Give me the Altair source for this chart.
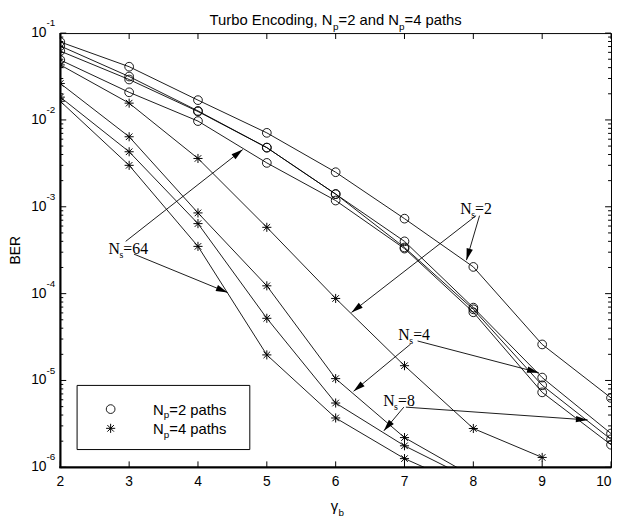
import math
import altair as alt
import pandas as pd

# ---------------- data ----------------
gamma = [2, 3, 4, 5, 6, 7, 8, 9, 10]

# Np = 2 paths (circles)
np2_ns2 = [0.079, 0.041, 0.0169, 0.0071, 0.0025, 7.3e-4, 2.03e-4, 2.6e-5, 6.3e-6]
np2_ns4 = [0.071, 0.0316, 0.0127, 0.0048, 0.0014, 4.0e-4, 6.9e-5, 1.08e-5, 2.45e-6]
np2_ns8 = [0.062, 0.0292, 0.0125, 0.0048, 0.0014, 3.4e-4, 6.6e-5, 8.8e-6, 2.1e-6]
np2_ns64 = [0.049, 0.0208, 0.0097, 0.0032, 0.00118, 3.3e-4, 6.1e-5, 7.3e-6, 1.82e-6]

# Np = 4 paths (stars)
gamma_np4_ns2 = [2, 3, 4, 5, 6, 7, 8, 9]
np4_ns2 = [0.043, 0.0156, 0.0036, 5.8e-4, 8.8e-5, 1.48e-5, 2.8e-6, 1.3e-6]
gamma_np4 = [2, 3, 4, 5, 6, 7, 8]
np4_ns4 = [0.0263, 0.0064, 8.5e-4, 1.23e-4, 1.05e-5, 2.2e-6, 7.8e-7]
np4_ns8 = [0.0183, 0.0043, 6.4e-4, 5.2e-5, 5.5e-6, 1.77e-6, 7.1e-7]
np4_ns64 = [0.0164, 0.0030, 3.5e-4, 1.97e-5, 3.7e-6, 1.26e-6, 5.6e-7]

# axis ticks / labels
x_ticks = [2, 3, 4, 5, 6, 7, 8, 9, 10]
y_major = [1e-1, 1e-2, 1e-3, 1e-4, 1e-5, 1e-6]
y_exp = ["-1", "-2", "-3", "-4", "-5", "-6"]
y_minor = [k * 10.0 ** e for e in range(-6, -1) for k in range(2, 10)]

# annotations (data coordinates)
ann_rest = ["=2", "=4", "=8", "=64"]
ann_x = [7.81, 6.91, 6.69, 2.70]
ann_y = [8.3e-4, 2.92e-5, 5.07e-6, 2.85e-4]
arr_x1 = [8.09, 8.04, 7.09, 7.19, 6.99, 7.02, 2.95, 3.07]
arr_y1 = [7.9e-4, 7.9e-4, 2.63e-5, 2.85e-5, 4.93e-6, 4.93e-6, 4.0e-4, 2.85e-4]
arr_x2 = [7.90, 6.23, 6.26, 8.95, 6.70, 9.66, 4.65, 4.43]
arr_y2 = [2.43e-4, 6.08e-5, 7.5e-6, 1.23e-5, 2.63e-6, 3.51e-6, 4.56e-3, 1.03e-4]

# ---------------- layout / style ----------------
W, H = 558, 440
SANS = "Liberation Sans"
SERIF = "Liberation Serif"
ARIAL = {' ': 278, ',': 278, '=': 584, 'T': 611, 'E': 667, 'N': 722, 'a': 556, 'b': 556,
         'c': 500, 'd': 556, 'g': 556, 'h': 556, 'i': 222, 'n': 556, 'o': 556, 'p': 556,
         'r': 333, 's': 500, 't': 278, 'u': 556}
TIMES = {'N': 722, 's': 389, '=': 564}


def tw(s, f, table):
    return sum(table.get(c, 556 if table is ARIAL else 500) for c in s) / 1000.0 * f


xs = alt.Scale(domain=[2, 10], nice=False, zero=False)
ys = alt.Scale(type="log", domain=[1e-6, 1e-1], nice=False)
STAR = "M-1,0L1,0M0,-1L0,1M-0.72,-0.72L0.72,0.72M-0.72,0.72L0.72,-0.72"
ARROW = "M0,0L-0.55,2L0.55,2Z"
CIRC_SIZE = 78
STAR_SIZE = 85

rows = []
for name, g, b, m in [
    ("np2_ns2", gamma, np2_ns2, "circle"), ("np2_ns4", gamma, np2_ns4, "circle"),
    ("np2_ns8", gamma, np2_ns8, "circle"), ("np2_ns64", gamma, np2_ns64, "circle"),
    ("np4_ns2", gamma_np4_ns2, np4_ns2, "star"), ("np4_ns4", gamma_np4, np4_ns4, "star"),
    ("np4_ns8", gamma_np4, np4_ns8, "star"), ("np4_ns64", gamma_np4, np4_ns64, "star"),
]:
    for gi, bi in zip(g, b):
        rows.append({"gamma": gi, "ber": bi, "series": name, "marker": m})
df = pd.DataFrame(rows)

X = alt.X("gamma:Q", scale=xs, axis=None)
Y = alt.Y("ber:Q", scale=ys, axis=None)

base = alt.Chart(df)
lines = base.mark_line(color="black", strokeWidth=0.9, clip=True).encode(
    x=X, y=Y, detail="series:N", order="gamma:Q")
circles = base.transform_filter(alt.datum.marker == "circle").mark_point(
    shape="circle", filled=False, color="black", size=CIRC_SIZE, strokeWidth=0.9,
    opacity=1, clip=True).encode(x=X, y=Y)
stars = base.transform_filter(alt.datum.marker == "star").mark_point(
    shape=STAR, filled=False, color="black", size=STAR_SIZE, strokeWidth=1,
    opacity=1, clip=True).encode(x=X, y=Y)

# arrows
def to_px(x, y):
    return (x - 2) / 8 * W, (-1 - math.log10(y)) / 5 * H

arr_rows = []
for a, b_, c, d in zip(arr_x1, arr_y1, arr_x2, arr_y2):
    p1 = to_px(a, b_)
    p2 = to_px(c, d)
    ang = math.degrees(math.atan2(p2[0] - p1[0], -(p2[1] - p1[1]))) % 360
    arr_rows.append({"x1": a, "y1": b_, "x2": c, "y2": d, "angle": ang})
adf = pd.DataFrame(arr_rows)
arrows = alt.Chart(adf).mark_rule(color="black", strokeWidth=0.9).encode(
    x=alt.X("x1:Q", scale=xs, axis=None), y=alt.Y("y1:Q", scale=ys, axis=None),
    x2="x2:Q", y2="y2:Q")
heads = alt.Chart(adf).mark_point(shape=ARROW, filled=True, color="black", size=140,
                                  strokeWidth=0, opacity=1).encode(
    x=alt.X("x2:Q", scale=xs, axis=None), y=alt.Y("y2:Q", scale=ys, axis=None),
    angle=alt.Angle("angle:Q", scale=None))

AF = 16
ldf = pd.DataFrame({"x": ann_x, "y": ann_y, "rest": ann_rest})
lx = alt.X("x:Q", scale=xs, axis=None)
ly = alt.Y("y:Q", scale=ys, axis=None)
ann_n = alt.Chart(ldf).mark_text(text="N", font=SERIF, fontSize=AF, align="left",
                                 baseline="alphabetic", color="black").encode(x=lx, y=ly)
ann_s = alt.Chart(ldf).mark_text(text="s", font=SERIF, fontSize=10, align="left",
                                 baseline="alphabetic", color="black",
                                 dx=tw("N", AF, TIMES) - 0.5, dy=4).encode(x=lx, y=ly)
ann_r = alt.Chart(ldf).mark_text(font=SERIF, fontSize=AF, align="left",
                                 baseline="alphabetic", color="black",
                                 dx=tw("N", AF, TIMES) + 3.5).encode(x=lx, y=ly, text="rest:N")

# ticks (inward, all four sides)
tyM = pd.DataFrame({"v": y_major})
tym = pd.DataFrame({"v": y_minor})
txd = pd.DataFrame({"v": x_ticks})
TY = alt.Y("v:Q", scale=ys, axis=None)
TX = alt.X("v:Q", scale=xs, axis=None)
tick_layers = [
    alt.Chart(tyM).mark_rule(color="black", strokeWidth=1).encode(
        y=TY, x=alt.value(0), x2=alt.value(6)),
    alt.Chart(tyM).mark_rule(color="black", strokeWidth=1).encode(
        y=TY, x=alt.value(W - 6), x2=alt.value(W)),
    alt.Chart(tym).mark_rule(color="black", strokeWidth=1).encode(
        y=TY, x=alt.value(0), x2=alt.value(3)),
    alt.Chart(tym).mark_rule(color="black", strokeWidth=1).encode(
        y=TY, x=alt.value(W - 3), x2=alt.value(W)),
    alt.Chart(txd).mark_rule(color="black", strokeWidth=1).encode(
        x=TX, y=alt.value(H), y2=alt.value(H - 6)),
    alt.Chart(txd).mark_rule(color="black", strokeWidth=1).encode(
        x=TX, y=alt.value(0), y2=alt.value(6)),
]

one = alt.Data(values=[{}])
frame_thick = [
    alt.Chart(one).mark_rule(color="black", strokeWidth=2).encode(
        x=alt.value(0), y=alt.value(0), y2=alt.value(H + 1)),
    alt.Chart(one).mark_rule(color="black", strokeWidth=2).encode(
        x=alt.value(-1), x2=alt.value(W), y=alt.value(H)),
]

# tick labels
ylab = pd.DataFrame({"v": y_major, "e": y_exp})
ylab_10 = alt.Chart(ylab).mark_text(text="10", font=SANS, fontSize=14, align="right",
                                    baseline="middle", color="black").encode(
    y=TY, x=alt.value(-14))
ylab_e = alt.Chart(ylab).mark_text(font=SANS, fontSize=10, align="left",
                                   baseline="middle", color="black", dy=-10).encode(
    y=TY, x=alt.value(-14), text="e:N")
xlab_df = pd.DataFrame({"v": x_ticks[:-1], "t": [str(v) for v in x_ticks[:-1]]})
xlab = alt.Chart(xlab_df).mark_text(
    font=SANS, fontSize=14, align="center", baseline="middle", color="black").encode(
    x=TX, y=alt.value(H + 14.5), text="t:N")
xlab_last = alt.Chart(pd.DataFrame({"v": x_ticks[-1:], "t": [str(x_ticks[-1])]})).mark_text(
    font=SANS, fontSize=14, align="right", baseline="middle", color="black").encode(
    x=alt.value(W + 0.5), y=alt.value(H + 14.5), text="t:N")

# axis titles
ytitle = alt.Chart(one).mark_text(text="BER", font=SANS, fontSize=14, angle=270,
                                  align="center", baseline="middle", color="black").encode(
    x=alt.value(-45), y=alt.value(H / 2))
xtitle_g = alt.Chart(one).mark_text(text="γ", font=SANS, fontSize=15, align="left",
                                    baseline="alphabetic", color="black").encode(
    x=alt.value(274), y=alt.value(484))
xtitle_b = alt.Chart(one).mark_text(text="b", font=SANS, fontSize=10, align="left",
                                    baseline="alphabetic", color="black").encode(
    x=alt.value(282), y=alt.value(489))

# title pieces
TF, SF = 15, 10
pieces = [("Turbo Encoding, N", TF, 0), ("p", SF, 5), ("=2 and N", TF, 0), ("p", SF, 5),
          ("=4 paths", TF, 0)]
total = sum(tw(t, f, ARIAL) for t, f, _ in pieces)
cur = W / 2 - total / 2
title_layers = []
for t, f, dyy in pieces:
    title_layers.append(alt.Chart(one).mark_text(
        text=t, font=SANS, fontSize=f, align="left", baseline="alphabetic",
        color="black", dy=dyy).encode(x=alt.value(cur), y=alt.value(-8.5)))
    cur += tw(t, f, ARIAL)

# legend
LF = 15
leg_box = alt.Chart(one).mark_rect(fill="white", stroke="black", strokeWidth=1).encode(
    x=alt.value(17), x2=alt.value(192), y=alt.value(357), y2=alt.value(422))
leg_c = alt.Chart(one).mark_point(shape="circle", filled=False, color="black",
                                  size=CIRC_SIZE, strokeWidth=0.9, opacity=1).encode(
    x=alt.value(51), y=alt.value(381))
leg_s = alt.Chart(one).mark_point(shape=STAR, filled=False, color="black",
                                  size=STAR_SIZE, strokeWidth=1, opacity=1).encode(
    x=alt.value(51), y=alt.value(400.5))
leg_layers = [leg_box, leg_c, leg_s]
for yy, rest in [(386.5, "=2 paths"), (406.5, "=4 paths")]:
    x0 = 94
    leg_layers.append(alt.Chart(one).mark_text(
        text="N", font=SANS, fontSize=LF, align="left", baseline="alphabetic",
        color="black").encode(x=alt.value(x0), y=alt.value(yy)))
    leg_layers.append(alt.Chart(one).mark_text(
        text="p", font=SANS, fontSize=SF, align="left", baseline="alphabetic",
        color="black", dy=4).encode(x=alt.value(x0 + tw("N", LF, ARIAL)), y=alt.value(yy)))
    leg_layers.append(alt.Chart(one).mark_text(
        text=rest, font=SANS, fontSize=LF, align="left", baseline="alphabetic",
        color="black").encode(x=alt.value(x0 + tw("N", LF, ARIAL) + tw("p", SF, ARIAL)),
                              y=alt.value(yy)))

chart = alt.layer(
    lines, circles, stars, arrows, heads, ann_n, ann_s, ann_r,
    *tick_layers, *frame_thick, ylab_10, ylab_e, xlab, xlab_last, ytitle, xtitle_g, xtitle_b,
    *title_layers, *leg_layers
).properties(
    width=W, height=H,
    autosize=alt.AutoSizeParams(type="none"),
    padding={"left": 53, "top": 22, "right": 1, "bottom": 53},
    background="white",
).configure_view(stroke="black", strokeWidth=1)

chart.save("out.html", embed_options={"renderer": "svg", "actions": False})
